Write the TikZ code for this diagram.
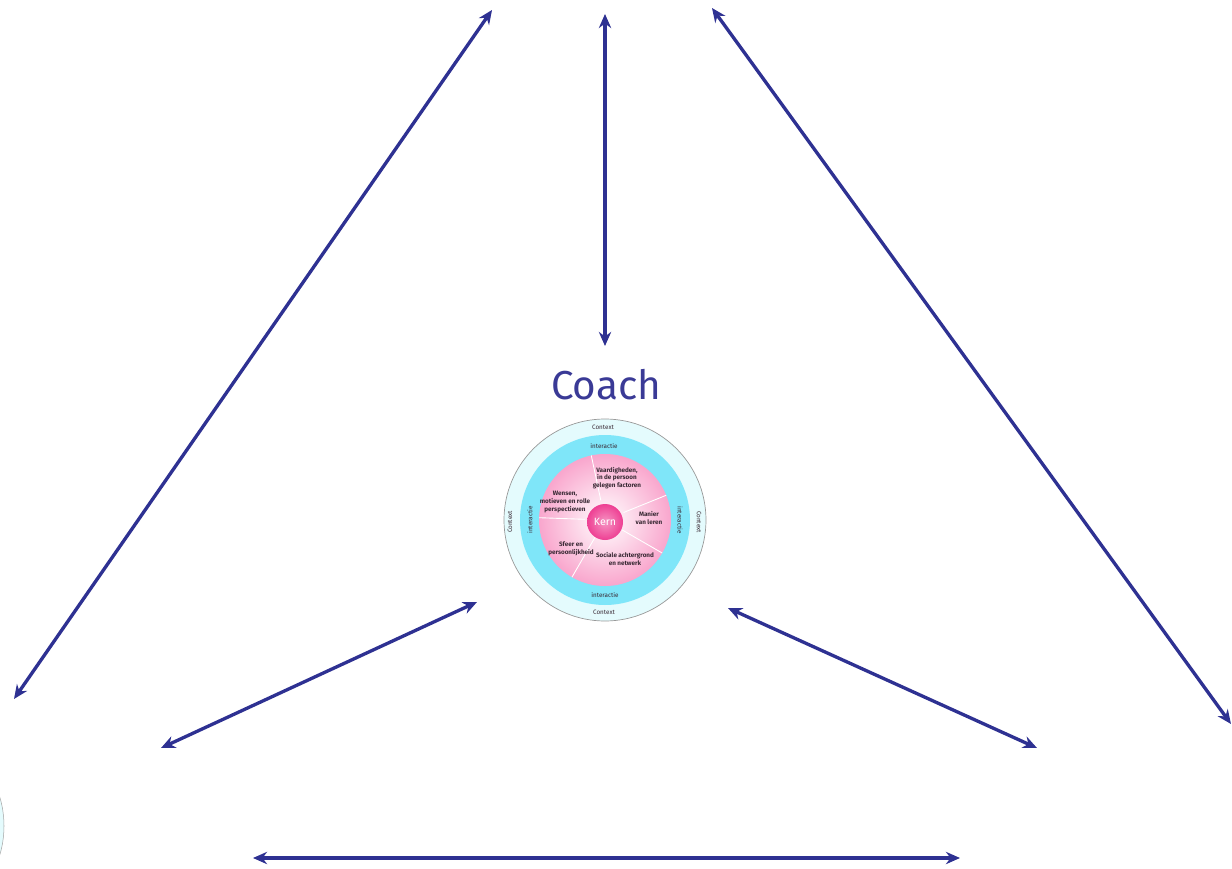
\documentclass[tikz,border=0pt]{standalone}
\usepackage{fontspec}
\setmainfont{Fira Sans}
\definecolor{CoachNavy}{HTML}{2E3192}
\definecolor{CoachText}{HTML}{3A3A96}
\definecolor{RingPale}{HTML}{E4FBFD}
\definecolor{RingCyan}{HTML}{7FE6F9}
\definecolor{CorePink}{HTML}{F9A6CD}
\definecolor{KernPink}{HTML}{EE3F93}
\definecolor{LabelGray}{HTML}{3A2A35}
\usetikzlibrary{arrows.meta, positioning}

\begin{document}
\begin{tikzpicture}[x=0.02cm, y=-0.02cm,
      link/.style={{Stealth[length=8pt,width=7pt]}-{Stealth[length=8pt,width=7pt]}, CoachNavy, line width=1.9pt},
      ringlabel/.style={font=\fontsize{3.6}{4}\selectfont, text=LabelGray, inner sep=0pt},
      segment/.style={font=\fontsize{3.6}{4.3}\selectfont\bfseries, text=LabelGray, align=center, inner sep=0pt}]
   \useasboundingbox (0,0) rectangle (1232,869);
   \clip (0,0) rectangle (1232,869);
   % Neighbour wheel, cut off at the left edge
   \filldraw[fill=RingPale, draw=gray!70, line width=0.3pt] (-97,826) circle (101);
   % Wheel of the coach
   \coordinate (hub) at (605,520);
   \filldraw[fill=RingPale, draw=gray!80, line width=0.4pt] (hub) circle (101);
   \fill[RingCyan] (hub) circle (85);
   \shade[inner color=white, outer color=CorePink] (hub) circle (66);
   % Segment borders
   \foreach \a in {30, 120, 182, 258, 338}
      \draw[white, line width=0.5pt] (hub) ++(\a:20) -- ++(\a:46);
   \shade[inner color=KernPink!55, outer color=KernPink] (605,522) circle (18);
   \node[text=white, font=\fontsize{6}{6}\selectfont] (kern) at (605,522) {Kern};
   % Segment labels
   \node[segment] (skills) at (617,478) {Vaardigheden,\\in de persoon\\gelegen factoren};
   \node[segment] (wishes) at (565,502) {Wensen,\\motieven en rolle\\perspectieven};
   \node[segment] (learn) at (649,518) {Manier\\van leren};
   \node[segment] (mood) at (571,549) {Sfeer en\\persoonlijkheid};
   \node[segment] (social) at (625,559) {Sociale achtergrond\\en netwerk};
   % Ring labels
   \node[ringlabel] (intN) at (604,446) {interactie};
   \node[ringlabel] (intS) at (605,595) {interactie};
   \node[ringlabel, rotate=90] (intW) at (530,520) {interactie};
   \node[ringlabel, rotate=-90] (intE) at (680,520) {interactie};
   \node[ringlabel] (ctxN) at (603,427) {Context};
   \node[ringlabel] (ctxS) at (604,612) {Context};
   \node[ringlabel, rotate=90] (ctxW) at (510,522) {Context};
   \node[ringlabel, rotate=-90] (ctxE) at (699,522) {Context};
   % Title
   \node[text=CoachText, font=\fontsize{23}{23}\selectfont] (coach) at (606,385) {Coach};
   % Arrow ends
   \coordinate (topL) at (492,10);
   \coordinate (farL) at (14,699);
   \coordinate (topM) at (605,14);
   \coordinate (coachTop) at (605,346);
   \coordinate (topR) at (712,8);
   \coordinate (farR) at (1231,724);
   \coordinate (wheelSW) at (477,602);
   \coordinate (lowL) at (161,748);
   \coordinate (wheelSE) at (728,608);
   \coordinate (lowR) at (1037,748);
   \coordinate (baseL) at (253,858);
   \coordinate (baseR) at (960,858);
   % Arrows
   \draw[link] (topL) -- (farL);
   \draw[link] (topM) -- (coachTop);
   \draw[link] (topR) -- (farR);
   \draw[link] (wheelSW) -- (lowL);
   \draw[link] (wheelSE) -- (lowR);
   \draw[link] (baseL) -- (baseR);
\end{tikzpicture}
\end{document}
